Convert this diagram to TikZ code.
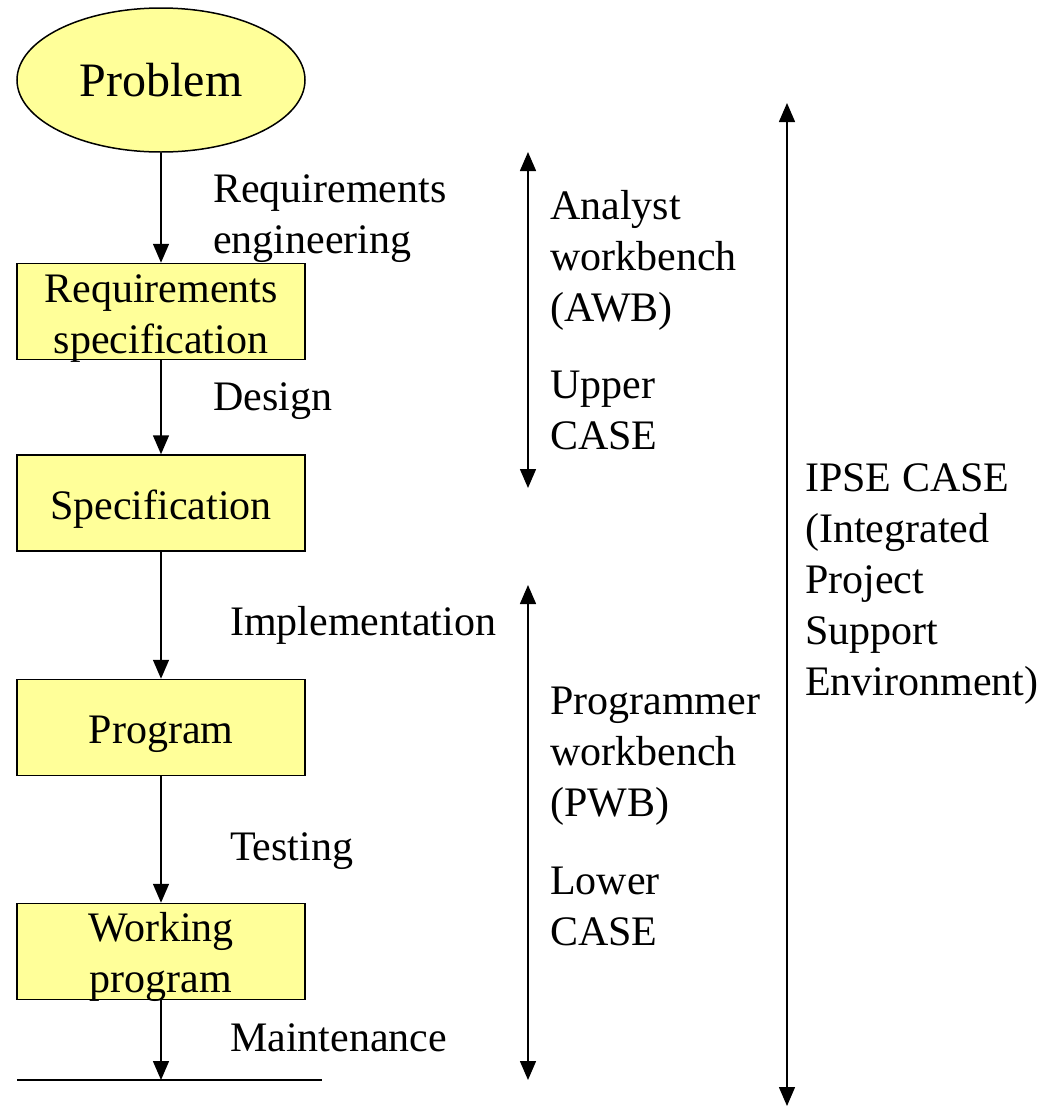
\documentclass[tikz,border=0pt]{standalone}
\usepackage{fontspec}
\setmainfont{Liberation Serif}
\usetikzlibrary{arrows.meta,shapes.geometric}
\definecolor{paleyellow}{RGB}{255,255,153}
\newcommand{\lowerstrut}{\rule{0pt}{41pt}}

\tikzset{
  stage/.style={draw, line width=1.5pt, fill=paleyellow, minimum width=288pt, minimum height=96pt, align=center, inner xsep=0pt, inner ysep=-4pt},
  flow/.style={->, line width=1.5pt},
  span/.style={<->, line width=1.5pt},
  lbl/.style={anchor=west, align=left, inner sep=0pt},
}

\begin{document}
\begin{tikzpicture}[x=1pt, y=-1pt, >={Triangle[length=19pt,width=16pt]}, font=\rmfamily\fontsize{42}{51}\selectfont]
\useasboundingbox (0,0) rectangle (1048,1109);

\node[ellipse, draw, line width=1.5pt, fill=paleyellow, minimum width=288pt, minimum height=144pt, inner sep=0pt, font=\rmfamily\fontsize{48}{56}\selectfont] (problem) at (161,80) {Problem};

\node[stage] (reqspec) at (161,311.5) {\lowerstrut Requirements\\specification};
\node[stage] (spec) at (161,503) {\lowerstrut Specification};
\node[stage] (prog) at (161,727.5) {\lowerstrut Program};
\node[stage] (work) at (161,951.5) {\lowerstrut Working\\program};

\coordinate (endl) at (17,1080);
\coordinate (endr) at (322,1080);
\draw[line width=1.5pt] (endl) -- (endr);

\draw[flow] (problem) -- (reqspec);
\draw[flow] (reqspec) -- (spec);
\draw[flow] (spec) -- (prog);
\draw[flow] (prog) -- (work);
\draw[flow] (work.south) -- (work.south |- endl);

\node[lbl] (reqeng) at (213,219) {Requirements\\engineering};
\node[lbl] (design) at (213,401) {Design};
\node[lbl] (impl) at (230,625) {Implementation};
\node[lbl] (test) at (230,851) {Testing};
\node[lbl] (maint) at (230,1038) {Maintenance};

\coordinate (awbtop) at (528,152);
\coordinate (awbbot) at (528,488);
\draw[span] (awbtop) -- (awbbot);
\node[lbl] (awb) at (550,260) {Analyst\\workbench\\(AWB)};
\node[lbl] (upper) at (550,410) {Upper\\CASE};

\coordinate (pwbtop) at (528,585);
\coordinate (pwbbot) at (528,1080);
\draw[span] (pwbtop) -- (pwbbot);
\node[lbl] (pwb) at (550,756) {Programmer\\workbench\\(PWB)};
\node[lbl] (lower) at (550,906) {Lower\\CASE};

\coordinate (ipsetop) at (787,103);
\coordinate (ipsebot) at (787,1106);
\draw[span] (ipsetop) -- (ipsebot);
\node[lbl] (ipse) at (805,584) {IPSE CASE\\(Integrated\\Project\\Support\\Environment)};

\end{tikzpicture}
\end{document}
